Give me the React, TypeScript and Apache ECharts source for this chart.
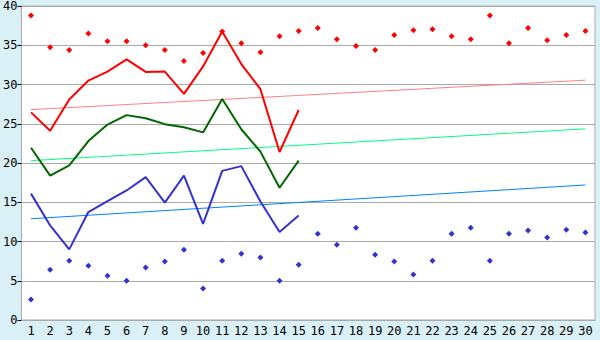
import React, { useEffect, useRef } from "react";
import * as echarts from "echarts";

const days = Array.from({ length: 30 }, (_, i) => String(i + 1));

const maxPoints = [38.8, 34.75, 34.4, 36.5, 35.5, 35.5, 35.0, 34.4, 33.0, 34.0, 36.75, 35.25, 34.1, 36.15, 36.8, 37.2, 35.75, 34.9, 34.4, 36.3, 36.9, 37.05, 36.15, 35.75, 38.8, 35.25, 37.2, 35.65, 36.3, 36.8];
const minPoints = [2.6, 6.4, 7.55, 6.9, 5.65, 5.0, 6.7, 7.45, 8.95, 4.0, 7.55, 8.45, 7.95, 5.0, 7.05, 11.0, 9.6, 11.75, 8.3, 7.45, 5.8, 7.55, 11.0, 11.75, 7.55, 11.0, 11.4, 10.5, 11.5, 11.15];

const redLine = [26.45, 24.1, 28.1, 30.5, 31.65, 33.2, 31.6, 31.65, 28.8, 32.3, 36.75, 32.6, 29.4, 21.4, 26.75];
const greenLine = [21.95, 18.4, 19.7, 22.8, 24.9, 26.1, 25.7, 24.95, 24.55, 23.9, 28.15, 24.3, 21.45, 16.85, 20.3];
const blueLine = [16.1, 12.05, 9.0, 13.75, 15.15, 16.5, 18.2, 14.95, 18.4, 12.25, 19.0, 19.6, 15.1, 11.2, 13.3];

// trend lines: start (day 1) and end (day 30) values
const redTrend = [26.8, 30.55];
const greenTrend = [20.3, 24.35];
const blueTrend = [12.9, 17.2];

const yTicks = { min: 0, max: 40, interval: 5 };

function trendData(t: number[]) {
  return days.map((_, i) => (i === 0 ? t[0] : i === days.length - 1 ? t[1] : null));
}

export default function App() {
  const ref = useRef<HTMLDivElement>(null);
  useEffect(() => {
    if (!ref.current) return;
    const chart = echarts.init(ref.current, null, { renderer: "svg" });
    const font = "DejaVu Sans Mono";
    chart.setOption({
      animation: false,
      backgroundColor: "#d9f0f7",
      grid: {
        left: 20,
        right: 5,
        top: 5,
        bottom: 20,
        show: true,
        backgroundColor: "#ffffff",
        borderColor: "#aaaaaa",
        borderWidth: 1,
      },
      xAxis: {
        type: "category",
        data: days,
        boundaryGap: true,
        axisLine: { lineStyle: { color: "#aaaaaa" } },
        axisTick: { alignWithLabel: true, length: 4, lineStyle: { color: "#000" } },
        axisLabel: { color: "#000", fontFamily: font, fontSize: 12, margin: 5, interval: 0 },
        splitLine: { show: false },
      },
      yAxis: {
        type: "value",
        min: yTicks.min,
        max: yTicks.max,
        interval: yTicks.interval,
        axisLine: { show: true, lineStyle: { color: "#aaaaaa" } },
        axisTick: { show: true, length: 4, lineStyle: { color: "#000" } },
        axisLabel: { color: "#000", fontFamily: font, fontSize: 12, margin: 4 },
        splitLine: { lineStyle: { color: "#aaaaaa", width: 1 } },
      },
      series: [
        {
          type: "line",
          data: trendData(redTrend),
          connectNulls: true,
          symbol: "none",
          lineStyle: { color: "#ff8080", width: 1 },
        },
        {
          type: "line",
          data: trendData(greenTrend),
          connectNulls: true,
          symbol: "none",
          lineStyle: { color: "#00ff80", width: 1 },
        },
        {
          type: "line",
          data: trendData(blueTrend),
          connectNulls: true,
          symbol: "none",
          lineStyle: { color: "#0080ff", width: 1 },
        },
        {
          type: "line",
          data: redLine,
          symbol: "none",
          lineStyle: { color: "#ff0000", width: 2 },
        },
        {
          type: "line",
          data: greenLine,
          symbol: "none",
          lineStyle: { color: "#006600", width: 2 },
        },
        {
          type: "line",
          data: blueLine,
          symbol: "none",
          lineStyle: { color: "#3333cc", width: 2 },
        },
        {
          type: "scatter",
          data: maxPoints,
          symbol: "diamond",
          symbolSize: 6,
          itemStyle: { color: "#ff0000", opacity: 1 },
        },
        {
          type: "scatter",
          data: minPoints,
          symbol: "diamond",
          symbolSize: 6,
          itemStyle: { color: "#3333cc", opacity: 1 },
        },
      ],
    });
    return () => chart.dispose();
  }, []);
  return (
    <div
      ref={ref}
      style={{ position: "fixed", left: 0, top: 0, width: 600, height: 340 }}
    />
  );
}
